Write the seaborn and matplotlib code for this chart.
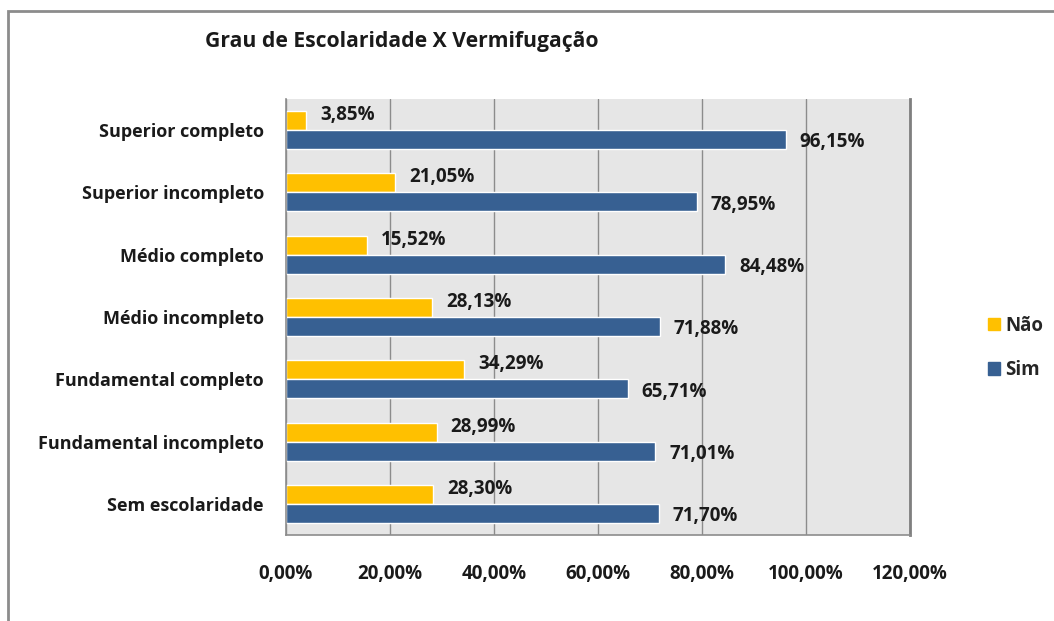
import matplotlib
matplotlib.use("Agg")
import matplotlib.pyplot as plt
from matplotlib.patches import Rectangle
from matplotlib.ticker import FuncFormatter, FixedLocator
import seaborn as sns
import pandas as pd

# Data
categorias = ["Superior completo", "Superior incompleto", "Médio completo",
              "Médio incompleto", "Fundamental completo", "Fundamental incompleto",
              "Sem escolaridade"]
nao = [3.85, 21.05, 15.52, 28.13, 34.29, 28.99, 28.30]
sim = [96.15, 78.95, 84.48, 71.88, 65.71, 71.01, 71.70]
series = ["Não", "Sim"]
cores = {"Não": "#FFC000", "Sim": "#376092"}

df = pd.DataFrame({
    "categoria": categorias * 2,
    "resposta": ["Não"] * len(categorias) + ["Sim"] * len(categorias),
    "valor": nao + sim,
})

sns.set_style("white")
plt.rcParams["font.family"] = ["Open Sans", "DejaVu Sans"]
plt.rcParams["font.weight"] = "bold"

fig = plt.figure(figsize=(10.54, 6.21), dpi=100)
ax = fig.add_axes([286 / 1054, 1 - 535 / 621, 624 / 1054, 436 / 621])
ax.set_facecolor("#E6E6E6")

sns.barplot(data=df, x="valor", y="categoria", hue="resposta", order=categorias,
            hue_order=series, palette=cores, orient="h", width=0.61,
            saturation=1, ax=ax, legend=False)

# Data labels
for cont, s in zip(ax.containers, series):
    dy = 4 if s == "Não" else -2
    for bar in cont:
        v = bar.get_width()
        ax.annotate(f"{v:.2f}%".replace(".", ","),
                    xy=(v, bar.get_y() + bar.get_height() / 2),
                    xytext=(10, dy), textcoords="offset points",
                    ha="left", va="center", fontsize=13.5, fontweight="bold",
                    color="#1a1a1a")

ax.set_xlim(0, 120)
ax.set_ylim(len(categorias) - 0.5, -0.5)
ax.set_xticks(range(0, 121, 20))
ax.xaxis.set_major_formatter(FuncFormatter(lambda v, p: f"{v:.2f}%".replace(".", ",")))
ax.grid(axis="x", color="#8C8C8C", linewidth=1)
ax.set_axisbelow(True)
ax.set_xlabel("")
ax.set_ylabel("")

ax.yaxis.set_minor_locator(FixedLocator([i - 0.5 for i in range(len(categorias) + 1)]))
ax.tick_params(axis="y", which="major", length=0, pad=16, labelsize=13)
ax.tick_params(axis="y", which="minor", length=7, color="#8C8C8C", width=1)
ax.tick_params(axis="x", which="major", length=6, color="#8C8C8C", width=1,
               pad=15, labelsize=13.5, direction="out")
for lbl in ax.get_xticklabels() + ax.get_yticklabels():
    lbl.set_fontweight("bold")
    lbl.set_color("#1a1a1a")

for side in ["left", "bottom"]:
    ax.spines[side].set_color("#8C8C8C")
    ax.spines[side].set_linewidth(1.2)
ax.spines["top"].set_visible(False)
ax.spines["right"].set_color("#7F7F7F")
ax.spines["right"].set_linewidth(2)

# Legend
handles = [Rectangle((0, 0), 1, 1, color=cores[s]) for s in series]
fig.legend(handles, series, loc="center left", bbox_to_anchor=(0.921, 0.44),
           frameon=False, handlelength=0.65, handleheight=0.65,
           handletextpad=0.3, labelspacing=1.3,
           prop={"weight": "bold", "size": 13.5})

fig.text(205 / 1054, 1 - 42 / 621, "Grau de Escolaridade X Vermifugação",
         fontsize=15.2, fontweight="bold", ha="left", va="center", color="#1a1a1a")

# Chart frame
fig.patches.append(Rectangle((8 / 1054, -0.1), 1.2, 1 - 11 / 621 + 0.1,
                             transform=fig.transFigure, fill=False,
                             edgecolor="#8C8C8C", linewidth=2))

fig.savefig("out.png", dpi=100, facecolor="white")
